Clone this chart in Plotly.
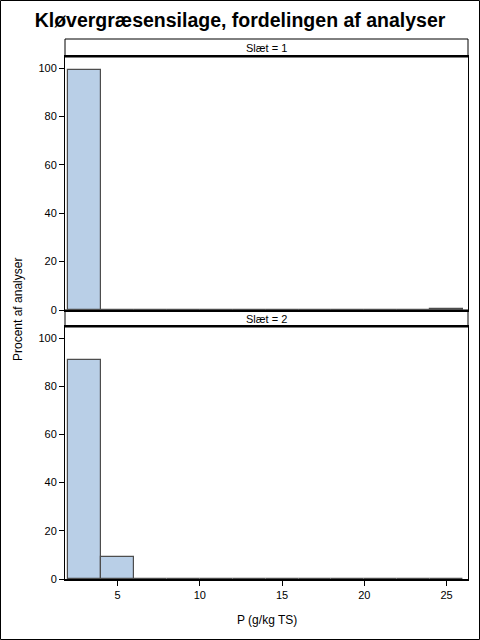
"""Klovergraesensilage: histogram of P (g/kg TS) per slaet, SAS-style panel look."""

import plotly.graph_objects as go
from plotly.subplots import make_subplots

# bin centres (bin width 2, from 2 to 26)
bin_mid = [3, 5, 7, 9, 11, 13, 15, 17, 19, 21, 23, 25]
pct_slaet1 = [99.4, 0, 0, 0, 0, 0, 0, 0, 0, 0, 0, 0.6]
pct_slaet2 = [91.0, 9.0, 0, 0, 0, 0, 0, 0, 0, 0, 0, 0]
panel_labels = ["Slæt = 1", "Slæt = 2"]
x_ticks = [5, 10, 15, 20, 25]
y_ticks = [0, 20, 40, 60, 80, 100]

FILL = "#b9cfe7"
EDGE = "#4d4d4d"
FONT = "Liberation Sans, Arial, sans-serif"

W, H = 480, 640
ML, MR, MT, MB = 65, 12, 39, 61
PW, PH = W - ML - MR, H - MT - MB

fig = make_subplots(rows=2, cols=1, shared_xaxes=True, vertical_spacing=0.03)

for row, vals in ((1, pct_slaet1), (2, pct_slaet2)):
    fig.add_trace(
        go.Bar(x=bin_mid, y=vals, width=2, marker_color=FILL,
               marker_line=dict(color=EDGE, width=1.2), showlegend=False),
        row=row, col=1,
    )

def yfrac(py):
    return (H - MB - py) / PH

def xfrac(px):
    return (px - ML) / PW

dom1 = [yfrac(310), yfrac(57)]
dom2 = [yfrac(579), yfrac(327)]
hdr1 = [yfrac(57), yfrac(39)]
hdr2 = [yfrac(327), yfrac(310)]

axis_style = dict(showline=True, linecolor="black", mirror=True,
                  showgrid=False, zeroline=False, ticks="outside", ticklen=5,
                  tickcolor="black", tickfont=dict(size=11, color="black"))

fig.update_xaxes(range=[1.8, 26.3], tickvals=x_ticks, linewidth=2, **axis_style)
fig.update_xaxes(showticklabels=False, ticks="", row=1, col=1)
fig.update_yaxes(range=[0, 104.6], tickvals=y_ticks, linewidth=1, **axis_style)
fig.update_layout(yaxis=dict(domain=dom1), yaxis2=dict(domain=dom2))

# panel headers
for label, (y0, y1) in zip(panel_labels, (hdr1, hdr2)):
    fig.add_shape(type="rect", xref="paper", yref="paper", x0=0, x1=1, y0=y0, y1=y1,
                  line=dict(color="black", width=1), fillcolor="white", layer="below")
    fig.add_annotation(text=label, xref="paper", yref="paper", x=0.5, y=(y0 + y1) / 2,
                       xanchor="center", yanchor="middle", showarrow=False,
                       font=dict(size=11, color="black"))

# shared axis titles
fig.add_annotation(text="Procent af analyser", xref="paper", yref="paper",
                   x=xfrac(18), y=yfrac(310), xanchor="center", yanchor="middle",
                   textangle=-90, showarrow=False, font=dict(size=12, color="black"))
fig.add_annotation(text="P (g/kg TS)", xref="paper", yref="paper",
                   x=0.5, y=yfrac(620), xanchor="center", yanchor="middle",
                   showarrow=False, font=dict(size=12, color="black"))

# outer frame
fig.add_shape(type="rect", xref="paper", yref="paper",
              x0=xfrac(0.5), x1=xfrac(W - 0.5), y0=yfrac(H - 0.5), y1=yfrac(0.5),
              line=dict(color="black", width=1))

fig.update_layout(
    width=W, height=H, margin=dict(l=ML, r=MR, t=MT, b=MB),
    paper_bgcolor="white", plot_bgcolor="white",
    font=dict(family=FONT, color="black"),
    title=dict(text="<b>Kløvergræsensilage, fordelingen af analyser</b>",
               x=0.5, xanchor="center", y=1 - 20 / H, yanchor="middle",
               font=dict(size=19.5, color="black")),
    bargap=0,
)

fig.write_html("out.html", config={"displayModeBar": False},
               post_script="document.body.style.margin='0';")
